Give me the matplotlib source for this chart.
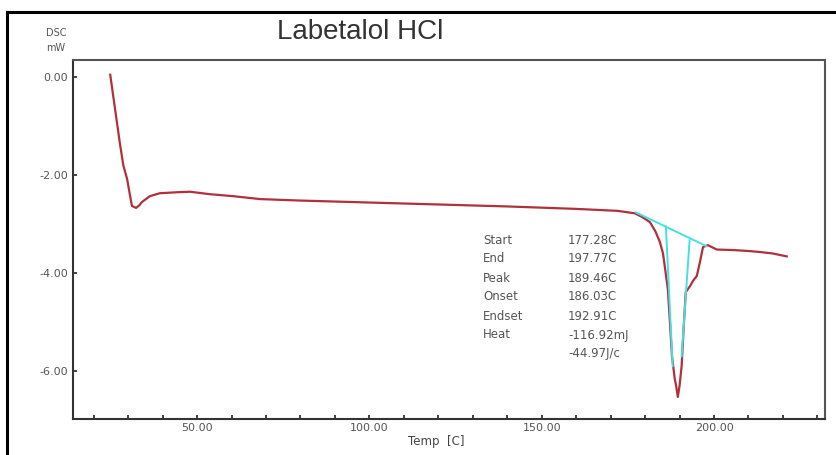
import numpy as np
import matplotlib.pyplot as plt
from matplotlib.lines import Line2D

# DSC trace of labetalol HCl (temperature in C, heat flow in mW)
temp = [24.8, 25.6, 26.6, 27.6, 28.6, 29.7, 30.5, 31.1, 32.3, 33.2, 34.0, 36.3,
        39.2, 44.2, 48.0, 53.7, 60.4, 68.3, 80.0, 100.0, 120.0, 140.0, 160.0,
        172.0, 177.0, 179.0, 181.4, 183.0, 184.3, 185.2, 185.7, 186.6, 187.2,
        187.8, 188.6, 189.0, 189.5, 190.0, 190.6, 191.2, 191.8, 193.0, 194.0,
        195.0, 195.9, 196.8, 198.2, 200.8, 205.5, 210.0, 213.3, 217.0, 221.1]
dsc = [0.05, -0.35, -0.85, -1.35, -1.80, -2.08, -2.40, -2.63, -2.67, -2.62, -2.55, -2.43,
       -2.37, -2.35, -2.34, -2.39, -2.43, -2.49, -2.52, -2.56, -2.60, -2.64, -2.69,
       -2.73, -2.78, -2.85, -2.96, -3.15, -3.37, -3.60, -3.86, -4.33, -5.00,
       -5.69, -6.16, -6.30, -6.53, -6.30, -5.90, -5.10, -4.39, -4.27, -4.15,
       -4.06, -3.78, -3.47, -3.43, -3.52, -3.53, -3.55, -3.57, -3.60, -3.66]

# peak analysis: baseline and the two tangents
base_t = [177.28, 197.77]
base_y = [-2.76, -3.45]
left_t = [186.03, 188.0]
left_y = [-3.05, -5.90]
right_t = [192.91, 190.6]
right_y = [-3.33, -5.70]

names = ["Start", "End", "Peak", "Onset", "Endset", "Heat", ""]
values = ["177.28C", "197.77C", "189.46C", "186.03C", "192.91C", "-116.92mJ", "-44.97J/c"]

xticks = [50, 100, 150, 200]
yticks = [0, -2, -4, -6]

fig = plt.figure(figsize=(8.36, 4.55), dpi=100)
ax = fig.add_axes([73/836, 36/455, 752/836, 359/455])

ax.plot(temp, dsc, color="#b0303c", lw=1.6)
cyan = "#45e0e0"
ax.plot(base_t, base_y, color=cyan, lw=1.4)
ax.plot(left_t, left_y, color=cyan, lw=1.4)
ax.plot(right_t, right_y, color=cyan, lw=1.4)

ax.set_xlim(14, 232.2)
ax.set_ylim(-6.98, 0.35)
ax.set_xticks(xticks)
ax.set_xticklabels([f"{v:.2f}" for v in xticks])
ax.set_xticks(np.arange(20, 231, 10), minor=True)
ax.set_yticks(yticks)
ax.set_yticklabels([f"{v:.2f}" for v in yticks])
ax.tick_params(which="both", direction="in", length=3, width=1.2, color="#222",
               labelsize=8, labelcolor="#555")
ax.tick_params(axis="x", pad=3)
for s in ax.spines.values():
    s.set_linewidth(1.5)
    s.set_color("#333")
ax.spines["top"].set_color("#555")
ax.spines["right"].set_color("#555")

# results table
for i, (n, v) in enumerate(zip(names, values)):
    y = 1 - (240 + 19 * i) / 455
    fig.text(483/836, y, n, fontsize=8.5, color="#555", va="center")
    fig.text(568/836, y, v, fontsize=8.5, color="#555", va="center")

fig.text(436/836, 1 - 441/455, "Temp  [C]", fontsize=8.5, color="#444",
         ha="center", va="center")
fig.text(56/836, 1 - 33/455, "DSC", fontsize=7, color="#555", ha="center", va="center")
fig.text(56/836, 1 - 48/455, "mW", fontsize=7, color="#555", ha="center", va="center")
fig.text(360/836, 1 - 32/455, "Labetalol HCl", fontsize=20, color="#333",
         family="Liberation Sans", ha="center", va="center")

# outer frame
fig.add_artist(Line2D([7/836, 7/836], [0, 1 - 12/455], color="black", lw=2.2))
fig.add_artist(Line2D([7/836, 1], [1 - 12/455, 1 - 12/455], color="black", lw=2.2))

fig.savefig("out.png", dpi=100)
plt.close()
